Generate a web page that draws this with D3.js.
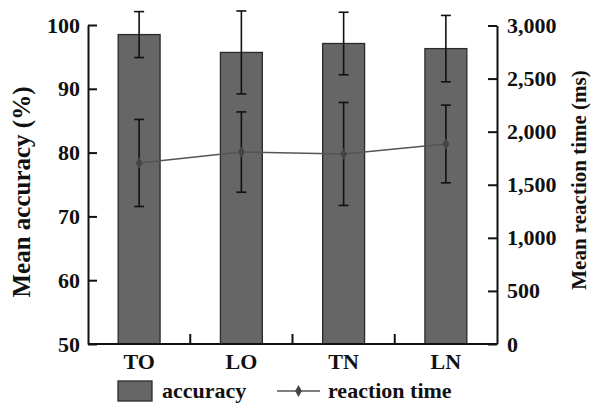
<!DOCTYPE html>
<html>
<head>
<meta charset="utf-8">
<script src="https://cdn.jsdelivr.net/npm/d3@7"></script>
<style>
  body { margin: 0; background: #fff; }
  text { font-family: "Liberation Serif", "Times New Roman", serif; font-weight: bold; }
</style>
</head>
<body>
<svg id="chart" width="592" height="404"></svg>
<script>
// Conditions along the x axis.
var categories = ['TO', 'LO', 'TN', 'LN'];

// Mean accuracy (%) and its error.
var accuracy = [98.5, 95.7, 97.1, 96.3];
var accuracyErr = [3.6, 6.5, 4.9, 5.2];

// Mean reaction time (ms) and its error.
var reactionTime = [1705, 1808, 1790, 1884];
var reactionErr = [410, 378, 485, 366];

var accuracyTicks = [50, 60, 70, 80, 90, 100];
var reactionTicks = [0, 500, 1000, 1500, 2000, 2500, 3000];

var svg = d3.select('#chart');
// Plot area edges.
var plotLeft = 88, plotRight = 497, plotTop = 25, plotBottom = 344;

var x = d3.scaleBand().domain(categories).range([plotLeft, plotRight]).
    paddingInner(0.59).paddingOuter(0.295);
var yAcc = d3.scaleLinear().domain([50, 100]).range([plotBottom, plotTop]);
var yRt = d3.scaleLinear().domain([0, 3000]).range([plotBottom, plotTop + 0.5]);

var cx = function(c) { return x(c) + x.bandwidth() / 2; };

// Bars.
svg.append('g').selectAll('rect').data(categories).enter().append('rect').
    attr('x', function(d) { return x(d); }).
    attr('y', function(d, i) { return yAcc(accuracy[i]); }).
    attr('width', x.bandwidth()).
    attr('height', function(d, i) { return plotBottom - yAcc(accuracy[i]); }).
    attr('fill', '#666').attr('stroke', '#2a2a2a').attr('stroke-width', 1.3);

// Error bars, drawn with the given scale.
function errorBars(values, errs, scale) {
  var g = svg.append('g').attr('stroke', '#111').attr('stroke-width', 1.6);
  categories.forEach(function(c, i) {
    var hi = scale(values[i] + errs[i]), lo = scale(values[i] - errs[i]);
    g.append('line').attr('x1', cx(c)).attr('x2', cx(c)).attr('y1', hi).attr('y2', lo);
    g.append('line').attr('x1', cx(c) - 5).attr('x2', cx(c) + 5).attr('y1', hi).attr('y2', hi);
    g.append('line').attr('x1', cx(c) - 5).attr('x2', cx(c) + 5).attr('y1', lo).attr('y2', lo);
  });
}
errorBars(accuracy, accuracyErr, yAcc);
errorBars(reactionTime, reactionErr, yRt);

// Reaction time line.
var line = d3.line().
    x(function(d, i) { return cx(categories[i]); }).
    y(function(d) { return yRt(d); });
svg.append('path').datum(reactionTime).attr('d', line).
    attr('fill', 'none').attr('stroke', '#555').attr('stroke-width', 1.5);
var diamond = d3.symbol().type(d3.symbolDiamond).size(40);
svg.append('g').selectAll('path').data(reactionTime).enter().append('path').
    attr('d', diamond).attr('fill', '#444').
    attr('transform', function(d, i) {
      return 'translate(' + cx(categories[i]) + ',' + yRt(d) + ')';
    });

// Axes.
function styleAxis(g) {
  g.selectAll('path, line').attr('stroke', '#111').attr('stroke-width', 2);
  g.selectAll('text').attr('fill', '#111').style('font-size', '22px');
}

svg.append('g').attr('transform', 'translate(' + plotLeft + ',0)').
    call(d3.axisLeft(yAcc).tickValues(accuracyTicks).tickSize(-9).
        tickSizeOuter(0).tickPadding(8)).
    call(styleAxis);

svg.append('g').attr('transform', 'translate(' + plotRight + ',0)').
    call(d3.axisRight(yRt).tickValues(reactionTicks).tickSize(-9).
        tickSizeOuter(0).tickPadding(10).tickFormat(d3.format(','))).
    call(styleAxis);

svg.append('g').attr('transform', 'translate(0,' + plotBottom + ')').
    call(d3.axisBottom(x).tickSize(0).tickSizeOuter(0).tickPadding(9)).
    call(styleAxis).
    call(function(g) {
      g.selectAll('.tick').attr('transform', function(d) {
        return 'translate(' + cx(d) + ',0)';
      });
      g.select('.domain').attr('d', 'M' + plotLeft + ',0H' + plotRight);
    });

// Upward ticks between categories.
var gap = x.step() * x.paddingInner() / 2;
svg.append('g').selectAll('line').data(categories.slice(1)).enter().append('line').
    attr('x1', function(d) { return x(d) - gap; }).
    attr('x2', function(d) { return x(d) - gap; }).
    attr('y1', plotBottom).attr('y2', plotBottom - 10).
    attr('stroke', '#111').attr('stroke-width', 2);

// Axis titles.
svg.append('text').attr('transform', 'translate(30,192) rotate(-90)').
    attr('text-anchor', 'middle').style('font-size', '25px').attr('fill', '#111').
    text('Mean accuracy (%)');
svg.append('text').attr('transform', 'translate(586,180) rotate(-90)').
    attr('text-anchor', 'middle').style('font-size', '21px').attr('fill', '#111').
    text('Mean reaction time (ms)');

// Legend.
var legend = svg.append('g');
legend.append('rect').attr('x', 118).attr('y', 381).attr('width', 34).attr('height', 20).
    attr('fill', '#666').attr('stroke', '#2a2a2a').attr('stroke-width', 1.3);
legend.append('text').attr('x', 162).attr('y', 398).style('font-size', '22px').
    attr('fill', '#111').text('accuracy');
legend.append('line').attr('x1', 277).attr('x2', 320).attr('y1', 391).attr('y2', 391).
    attr('stroke', '#555').attr('stroke-width', 1.5);
legend.append('path').attr('d', diamond).attr('fill', '#444').
    attr('transform', 'translate(298.5,391)');
legend.append('text').attr('x', 328).attr('y', 398).style('font-size', '22px').
    attr('fill', '#111').text('reaction time');
</script>
</body>
</html>
